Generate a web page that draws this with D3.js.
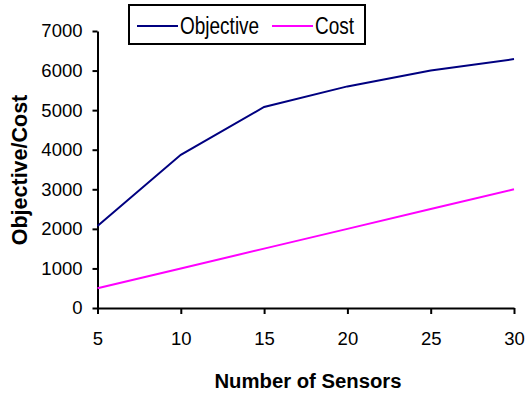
<!DOCTYPE html>
<html><head><meta charset="utf-8">
<script src="https://cdn.jsdelivr.net/npm/d3@7"></script>
<style>body{margin:0;background:#fff}svg{display:block}text{font-family:"Liberation Sans",Arial,sans-serif}</style>
</head><body>
<script>
const sensors = [5, 10, 15, 20, 25, 30];
const objective = [2070, 3870, 5080, 5600, 6000, 6290];
const cost = [500, 1000, 1500, 2000, 2500, 3000];
const yTicks = [0, 1000, 2000, 3000, 4000, 5000, 6000, 7000];
const xTicks = [5, 10, 15, 20, 25, 30];
const seriesNames = ["Objective", "Cost"];
const seriesColors = ["#000080", "#FF00FF"];

const W = 525, H = 396;
const svg = d3.select("body").append("svg").attr("width", W).attr("height", H);
const x = d3.scaleLinear().domain([5, 30]).range([97.5, 514]);
const y = d3.scaleLinear().domain([0, 7000]).range([308, 31]);

const yAxis = svg.append("g").attr("transform", "translate(97.5,0)")
  .call(d3.axisLeft(y).tickValues(yTicks).tickFormat(d3.format("d")).tickSize(5).tickPadding(10).tickSizeOuter(0));
const xAxis = svg.append("g").attr("transform", "translate(0,308)")
  .call(d3.axisBottom(x).tickValues(xTicks).tickFormat(d3.format("d")).tickSize(6).tickPadding(18).tickSizeOuter(0));
[yAxis, xAxis].forEach(g => {
  g.select(".domain").attr("stroke", "#000").attr("stroke-width", 2);
  g.selectAll(".tick line").attr("stroke", "#000").attr("stroke-width", 2);
  g.selectAll(".tick text").attr("fill", "#000").style("font-size", "18.5px").style("font-family", "'Liberation Sans', Arial, sans-serif");
});

const series = [objective, cost];
const line = d3.line().x((d, i) => x(sensors[i])).y(d => y(d));
series.forEach((s, k) => {
  svg.append("path").datum(s).attr("d", line).attr("fill", "none")
    .attr("stroke", seriesColors[k]).attr("stroke-width", 2);
});

svg.append("text").attr("x", 308).attr("y", 388).attr("text-anchor", "middle")
  .style("font-size", "20.3px").style("font-weight", "bold").text("Number of Sensors");
svg.append("text").attr("transform", "translate(27,170) rotate(-90)").attr("text-anchor", "middle")
  .style("font-size", "21.5px").style("font-weight", "bold").text("Objective/Cost");

// legend
const lg = svg.append("g");
lg.append("rect").attr("x", 129).attr("y", 5).attr("width", 236).attr("height", 39)
  .attr("fill", "#fff").attr("stroke", "#000").attr("stroke-width", 2);
const lx = [137, 272];
seriesNames.forEach((n, k) => {
  lg.append("line").attr("x1", lx[k]).attr("x2", lx[k] + 41).attr("y1", 26).attr("y2", 26)
    .attr("stroke", seriesColors[k]).attr("stroke-width", 2);
  lg.append("text").attr("transform", `translate(${lx[k] + 43},34) scale(1,1.25)`)
    .style("font-size", "19px").text(n);
});
</script>
</body></html>
